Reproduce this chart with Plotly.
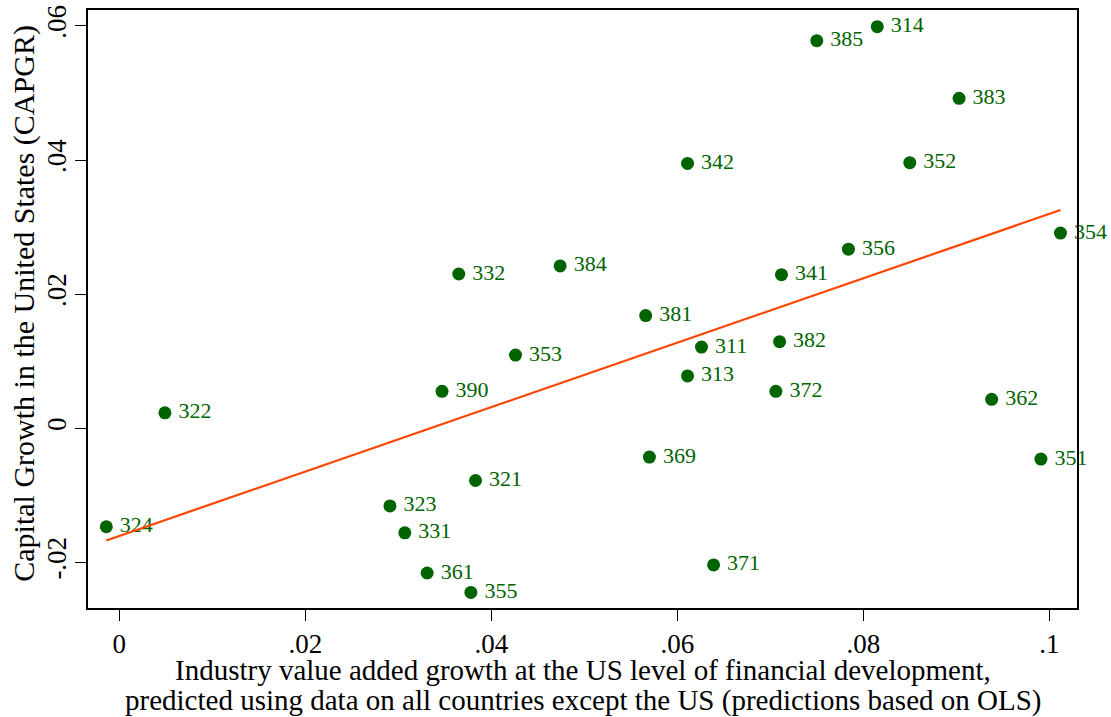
import numpy as np
import plotly.graph_objects as go

# Industry codes (ISIC)
industries = ["314", "385", "383", "352", "354", "342", "356", "341", "332", "384",
              "381", "353", "311", "382", "313", "372", "390", "322", "362", "369",
              "351", "321", "323", "324", "331", "361", "355", "371"]
# Predicted value added growth (x)
predicted_growth = [0.0815, 0.0750, 0.0903, 0.0850, 0.1012, 0.0611, 0.0784, 0.0712, 0.0365, 0.0474,
                    0.0566, 0.0426, 0.0626, 0.0710, 0.0611, 0.0706, 0.0347, 0.0049, 0.0938, 0.0570,
                    0.0991, 0.0383, 0.0291, -0.0014, 0.0307, 0.0331, 0.0378, 0.0639]
# Capital growth in the US (y)
capital_growth = [0.0599, 0.0578, 0.0492, 0.0396, 0.0291, 0.0395, 0.0267, 0.0229, 0.0230, 0.0242,
                  0.0168, 0.0109, 0.0121, 0.0129, 0.0078, 0.0055, 0.0055, 0.0023, 0.0043, -0.0043,
                  -0.0046, -0.0078, -0.0116, -0.0147, -0.0156, -0.0216, -0.0245, -0.0204]

x_tick_vals = [0, 0.02, 0.04, 0.06, 0.08, 0.1]
x_tick_text = ["0", ".02", ".04", ".06", ".08", ".1"]
y_tick_vals = [-0.02, 0, 0.02, 0.04, 0.06]
y_tick_text = ["-.02", "0", ".02", ".04", ".06"]

x_title_lines = ["Industry value added growth at the US level of financial development,",
                 "predicted using data on all countries except the US (predictions based on OLS)"]
y_title = "Capital Growth in the United States (CAPGR)"

x = np.array(predicted_growth)
y = np.array(capital_growth)
slope, intercept = np.polyfit(x, y, 1)
fit_x = np.array([x.min(), x.max()])
fit_y = intercept + slope * fit_x

FONT = "Liberation Serif, Times New Roman, serif"
GREEN = "#006400"

fig = go.Figure()
fig.add_trace(go.Scatter(
    x=predicted_growth, y=capital_growth, mode="markers+text",
    text=["\u2009" + s for s in industries], textposition="middle right",
    textfont=dict(family=FONT, size=22, color=GREEN),
    marker=dict(color=GREEN, size=13, line=dict(width=0)),
    showlegend=False, cliponaxis=False,
))
fig.add_trace(go.Scatter(
    x=fit_x, y=fit_y, mode="lines",
    line=dict(color="#ff4500", width=2.2),
    showlegend=False,
))

fig.update_layout(
    width=1111, height=717,
    margin=dict(l=88, r=34, t=10, b=109),
    paper_bgcolor="white", plot_bgcolor="white",
    font=dict(family=FONT, color="black"),
    xaxis=dict(
        range=[-0.00337, 0.10298], tickvals=x_tick_vals, ticktext=x_tick_text,
        ticks="outside", ticklen=11, tickwidth=1.2, tickcolor="black",
        showline=True, linecolor="black", linewidth=1.5, mirror=True,
        showgrid=False, zeroline=False, automargin=False, ticklabeloverflow="allow",
        tickfont=dict(family=FONT, size=27, color="black"),
    ),
    yaxis=dict(
        range=[-0.02682, 0.06238], tickvals=y_tick_vals, ticktext=y_tick_text,
        ticks="outside", ticklen=11, tickwidth=1.2, tickcolor="black", tickangle=-90,
        ticklabelstandoff=-2, ticklabeloverflow="allow",
        showline=True, linecolor="black", linewidth=1.5, mirror=True,
        showgrid=False, zeroline=False, automargin=False,
        tickfont=dict(family=FONT, size=27, color="black"),
    ),
    annotations=[
        dict(text=x_title_lines[0], xref="paper", yref="paper", x=0.5, y=-0.103,
             xanchor="center", yanchor="middle", showarrow=False,
             font=dict(family=FONT, size=29, color="black")),
        dict(text=x_title_lines[1], xref="paper", yref="paper", x=0.5, y=-0.154,
             xanchor="center", yanchor="middle", showarrow=False,
             font=dict(family=FONT, size=29, color="black")),
        dict(text=y_title, xref="paper", yref="paper", x=-0.065, y=0.51,
             xanchor="center", yanchor="middle", showarrow=False, textangle=-90,
             font=dict(family=FONT, size=30, color="black")),
    ],
)

fig.write_html("out.html", config={"displayModeBar": False},
               post_script="document.body.style.margin='0';")
